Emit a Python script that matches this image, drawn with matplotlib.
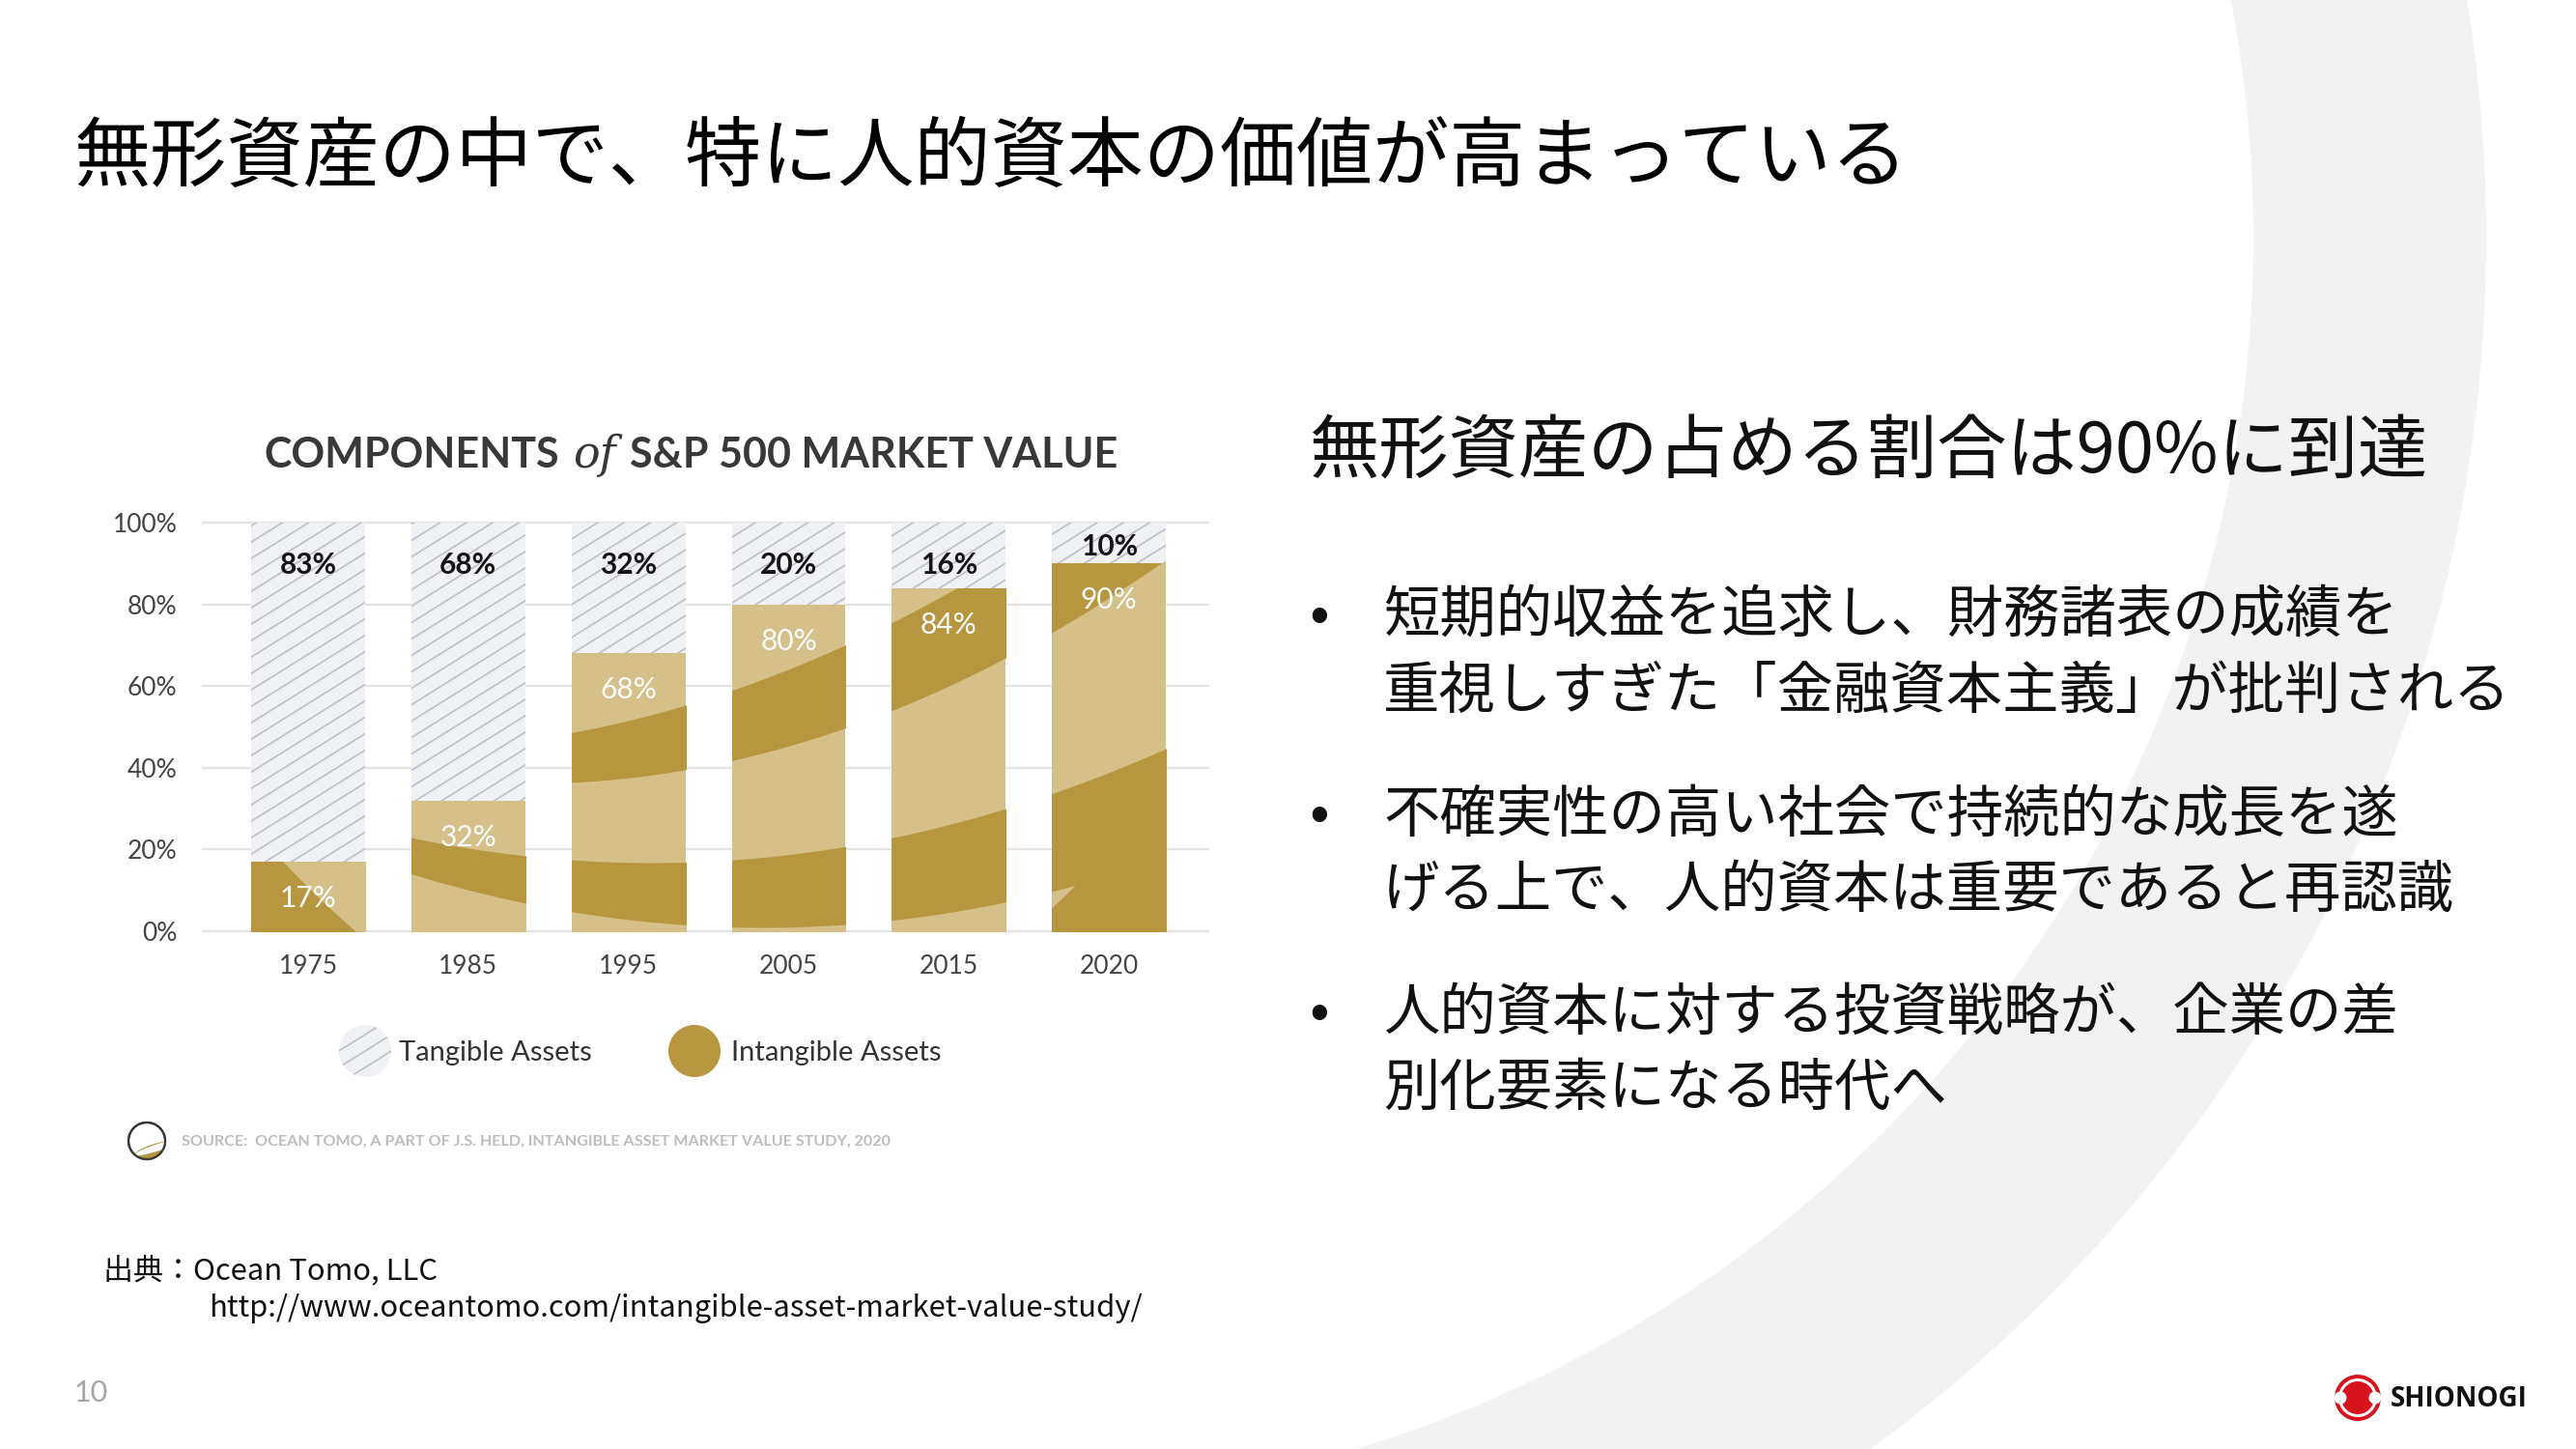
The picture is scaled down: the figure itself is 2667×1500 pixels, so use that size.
import numpy as np
import matplotlib
matplotlib.use("Agg")
import matplotlib.pyplot as plt
from matplotlib.patches import Circle, Wedge, Ellipse
from matplotlib.collections import LineCollection

# ---- data ----
years = ["1975", "1985", "1995", "2005", "2015", "2020"]
intangible = [17, 32, 68, 80, 84, 90]
tangible = [83, 68, 32, 20, 16, 10]
yticks = [0, 20, 40, 60, 80, 100]

title = "無形資産の中で、特に人的資本の価値が高まっている"
heading = "無形資産の占める割合は90%に到達"
bullets = [
    ["短期的収益を追求し、財務諸表の成績を", "重視しすぎた「金融資本主義」が批判される"],
    ["不確実性の高い社会で持続的な成長を遂", "げる上で、人的資本は重要であると再認識"],
    ["人的資本に対する投資戦略が、企業の差", "別化要素になる時代へ"],
]
source_note = "SOURCE:  OCEAN TOMO, A PART OF J.S. HELD, INTANGIBLE ASSET MARKET VALUE STUDY, 2020"

GOLD = "#B8963F"
GOLD_LT = "#D6C08A"
TAN_BG = "#F0F1F5"
HATCH = "#BEC0C7"
JP = ["Noto Sans CJK JP", "DejaVu Sans"]

plt.rcParams["font.family"] = ["Lato", "DejaVu Sans"]

W, H = 2667, 1500
fig = plt.figure(figsize=(W / 100, H / 100), dpi=100)

# background axes in pixel units (y down)
bg = fig.add_axes([0, 0, 1, 1])
bg.set_xlim(0, W)
bg.set_ylim(H, 0)
bg.axis("off")
bg.add_patch(Wedge((1022, 246), 1552, -90, 90, width=1552 - 1311,
                   facecolor="#F2F2F2", edgecolor="none", zorder=0))

# ---- chart ----
ax = fig.add_axes([210 / W, (H - 964) / H, (1251 - 210) / W, (964 - 541) / H])
ax.set_facecolor("none")
x = np.arange(len(years))
ax.set_xlim(-0.657, 5.62)
ax.set_ylim(0, 100)
for v in yticks:
    ax.axhline(v, color="#E3E3E3", lw=1.6, zorder=0, clip_on=False)

bars_int = ax.bar(x, intangible, width=0.71, color=GOLD_LT, zorder=2)
bars_tan = ax.bar(x, tangible, bottom=intangible, width=0.71, color=TAN_BG, zorder=2)


def px2data(xp, yp):
    pts = ax.transData.inverted().transform(np.column_stack([xp, H - np.asarray(yp)]))
    return pts[:, 0], pts[:, 1]


# decorative swoosh bands inside the intangible bars (pixel-space curves)
xs = np.linspace(190, 1270, 700)
c1 = 893 - 0.000417 * (xs - 675) ** 2
c2 = 960 - 0.000417 * (xs - 790) ** 2
c3 = 1114.5 - 0.00125 * (xs - 715) ** 2
c4 = 776 - 0.00048 * (xs - 400) ** 2
c5 = 811 - 0.00053 * (xs - 546) ** 2
floor = np.full_like(xs, 1000)


def band(top, bot, color, clip):
    xd, yt = px2data(xs, top)
    _, yb = px2data(xs, bot)
    p = ax.fill_between(xd, yb, yt, where=bot > top, interpolate=True,
                        color=color, lw=0, zorder=3)
    p.set_clip_path(clip)


for b in bars_int:
    band(c4, c5, GOLD, b)
    band(c1, floor, GOLD, b)
    band(c2, c3, GOLD_LT, b)

# hatch for tangible part
ang = np.tan(np.deg2rad(32))
segs = []
for y0 in np.arange(520, 980 + 1080 * ang, 17):
    xd, yd = px2data([190, 1270], [y0, y0 - 1080 * ang])
    segs.append([(xd[0], yd[0]), (xd[1], yd[1])])
for b in bars_tan:
    lc = LineCollection(segs, colors=HATCH, linewidths=1.2, zorder=3)
    ax.add_collection(lc)
    lc.set_clip_path(b)

for i in range(len(years)):
    yt = 89.5 if tangible[i] > 12 else (100 + intangible[i]) / 2 - 1
    ax.text(x[i], yt, f"{tangible[i]}%", ha="center", va="center",
            fontsize=21.5, fontweight="bold", color="#151515", zorder=5)
    ax.text(x[i], intangible[i] - 9, f"{intangible[i]}%", ha="center", va="center",
            fontsize=21.5, color="white", zorder=5)

ax.set_yticks(yticks, [f"{v}%" for v in yticks])
ax.set_xticks(x, years)
ax.tick_params(axis="y", length=0, labelsize=19, labelcolor="#444444", pad=19)
ax.tick_params(axis="x", length=0, labelsize=19, labelcolor="#444444", pad=17)
for s in ax.spines.values():
    s.set_visible(False)

# chart title in three pieces
r = fig.canvas.get_renderer()
parts = [
    ("COMPONENTS", dict(fontsize=31, fontweight="bold", color="#383838")),
    ("of", dict(fontsize=33, family="DejaVu Serif", style="italic", color="#383838")),
    ("S&P 500 MARKET VALUE", dict(fontsize=31, fontweight="bold", color="#383838")),
]
gap = 14
objs = [bg.text(0, 484, s, ha="left", va="baseline", **kw) for s, kw in parts]
widths = [o.get_window_extent(r).width for o in objs]
cur = 715 - (sum(widths) + gap * 2) / 2
for o, w in zip(objs, widths):
    o.set_x(cur)
    cur += w + gap

# legend
bg.add_patch(Circle((378, 1088), 27, facecolor=TAN_BG, edgecolor="none", zorder=2))
clip_c = Circle((378, 1088), 27, transform=bg.transData)
lsegs = [[(330, y0), (430, y0 - 100 * ang)] for y0 in np.arange(1050, 1180, 17)]
lc = LineCollection(lsegs, colors=HATCH, linewidths=1.2, zorder=3)
bg.add_collection(lc)
lc.set_clip_path(clip_c)
bg.text(413, 1090, "Tangible Assets", va="center", fontsize=21, color="#333333")
bg.add_patch(Circle((719, 1088), 27, facecolor=GOLD, edgecolor="none", zorder=2))
bg.text(757, 1090, "Intangible Assets", va="center", fontsize=21, color="#333333")

# source line with small logo
logo = Circle((152, 1181), 19, facecolor="white", edgecolor="#3A3A3A", lw=1.6, zorder=3)
bg.add_patch(logo)
for (cx, cy, w_, h_, c) in [(162, 1196, 66, 24, GOLD), (166, 1187, 60, 7, "white"),
                            (168, 1200, 60, 5, "#E9DDB9")]:
    e = Ellipse((cx, cy), w_, h_, angle=-18, facecolor=c, edgecolor="none", zorder=4)
    bg.add_patch(e)
    e.set_clip_path(logo)
bg.add_patch(Circle((152, 1181), 19, facecolor="none", edgecolor="#3A3A3A", lw=1.6, zorder=5))
bg.text(188, 1182, source_note, va="center", fontsize=11.6, fontweight="bold", color="#BDBDBD")

# ---- slide texts ----
bg.text(77, 165, title, family=JP, fontsize=57, va="center", color="black")
bg.text(1356, 469, heading, family=JP, fontsize=52, va="center", color="#111111")
for j, lines in enumerate(bullets):
    y0 = [638, 844, 1049][j]
    bg.text(1366, y0, "•", family=JP, fontsize=44, ha="center", va="center", color="#111111")
    for k, line in enumerate(lines):
        bg.text(1432, y0 + 78 * k, line, family=JP, fontsize=42, va="center", color="#111111")

bg.text(107, 1315, "出典：Ocean Tomo, LLC", family=JP, fontsize=22.3, va="center", color="#111111")
bg.text(216, 1355, "http://www.oceantomo.com/intangible-asset-market-value-study/",
        family=JP, fontsize=22.3, va="center", color="#111111")
bg.text(77, 1442, "10", fontsize=22, va="center", color="#A6A6A6")

# SHIONOGI logo
bg.add_patch(Circle((2441, 1447), 24, facecolor="#D7141E", edgecolor="none", zorder=3))
bg.add_patch(Circle((2441, 1447), 20, facecolor="white", edgecolor="none", zorder=3))
bg.add_patch(Circle((2441, 1447), 17, facecolor="#D7141E", edgecolor="none", zorder=3))
bg.add_patch(Circle((2423, 1447), 6.5, facecolor="white", edgecolor="none", zorder=3))
bg.add_patch(Circle((2459, 1447), 6.5, facecolor="white", edgecolor="none", zorder=3))
bg.text(2475, 1448, "SHIONOGI", family=["Open Sans", "DejaVu Sans"], fontweight="bold",
        fontsize=20, va="center", color="#111111")

fig.savefig("out.png", dpi=100)
